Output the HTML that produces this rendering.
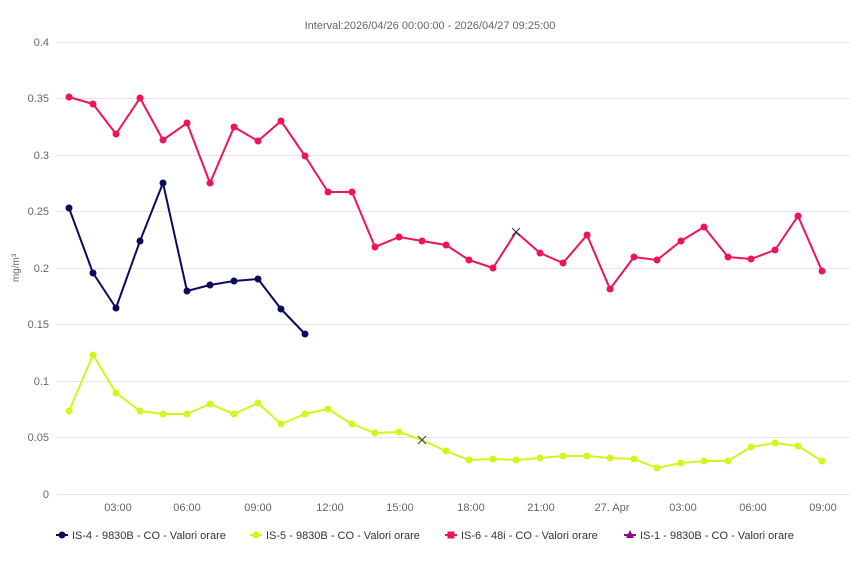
<!DOCTYPE html>
<html><head><style>
body{margin:0;background:#fff;}
svg{display:block;font-family:"Liberation Sans",sans-serif;}
</style></head><body>
<svg width="861" height="561" viewBox="0 0 861 561">
<text x="430" y="29" font-size="11" fill="#666" text-anchor="middle">Interval:2026/04/26 00:00:00 - 2026/04/27 09:25:00</text>
<g stroke="#e6e6e6" stroke-width="1">
<line x1="57" x2="850" y1="42.5" y2="42.5"/><line x1="57" x2="850" y1="98.5" y2="98.5"/>
<line x1="57" x2="850" y1="155.5" y2="155.5"/><line x1="57" x2="850" y1="211.5" y2="211.5"/>
<line x1="57" x2="850" y1="268.5" y2="268.5"/><line x1="57" x2="850" y1="324.5" y2="324.5"/>
<line x1="57" x2="850" y1="381.5" y2="381.5"/><line x1="57" x2="850" y1="437.5" y2="437.5"/>
<line x1="57" x2="850" y1="494.5" y2="494.5"/>
</g>
<g font-size="11" fill="#666" text-anchor="end">
<text x="49" y="46">0.4</text><text x="49" y="102">0.35</text><text x="49" y="159">0.3</text>
<text x="49" y="215">0.25</text><text x="49" y="272">0.2</text><text x="49" y="328">0.15</text>
<text x="49" y="385">0.1</text><text x="49" y="441">0.05</text><text x="49" y="498">0</text>
</g>
<text transform="translate(19,268) rotate(-90)" font-size="10" fill="#666" text-anchor="middle">mg/m³</text>
<g font-size="11" fill="#666" text-anchor="middle">
<text x="118" y="511">03:00</text><text x="187" y="511">06:00</text><text x="258" y="511">09:00</text>
<text x="330" y="511">12:00</text><text x="400" y="511">15:00</text><text x="471" y="511">18:00</text>
<text x="541" y="511">21:00</text><text x="612" y="511">27. Apr</text><text x="683" y="511">03:00</text>
<text x="753" y="511">06:00</text><text x="823" y="511">09:00</text>
</g>
<g fill="none" stroke-width="2" stroke-linejoin="round">
<polyline stroke="#f0135a" points="69,97 93,104 116,134 140,98 163,140 187,123 210,183 234,127 258,141 281,121 305,156 328,192 352,192 375,247 399,237 422,241 446,245 469,260 493,268 516,232 540,253 563,263 587,235 610,289 634,257 657,260 681,241 704,227 728,257 751,259 775,250 798,216 822,271"/>
<polyline stroke="#0b0b5e" points="69,208 93,273 116,308 140,241 163,183 187,291 210,285 234,281 258,279 281,309 305,334"/>
<polyline stroke="#d4f51a" points="69,411 93,355 116,393 140,411 163,414 187,414 210,404 234,414 258,403 281,424 305,414 328,409 352,424 375,433 399,432 422,440 446,451 469,460 493,459 516,460 540,458 563,456 587,456 610,458 634,459 657,468 681,463 704,461 728,461 751,447 775,443 798,446 822,461"/>
</g>
<g fill="#f0135a">
<circle cx="69" cy="97" r="3.5"/><circle cx="93" cy="104" r="3.5"/><circle cx="116" cy="134" r="3.5"/><circle cx="140" cy="98" r="3.5"/><circle cx="163" cy="140" r="3.5"/><circle cx="187" cy="123" r="3.5"/><circle cx="210" cy="183" r="3.5"/><circle cx="234" cy="127" r="3.5"/><circle cx="258" cy="141" r="3.5"/><circle cx="281" cy="121" r="3.5"/><circle cx="305" cy="156" r="3.5"/><circle cx="328" cy="192" r="3.5"/><circle cx="352" cy="192" r="3.5"/><circle cx="375" cy="247" r="3.5"/><circle cx="399" cy="237" r="3.5"/><circle cx="422" cy="241" r="3.5"/><circle cx="446" cy="245" r="3.5"/><circle cx="469" cy="260" r="3.5"/><circle cx="493" cy="268" r="3.5"/><circle cx="540" cy="253" r="3.5"/><circle cx="563" cy="263" r="3.5"/><circle cx="587" cy="235" r="3.5"/><circle cx="610" cy="289" r="3.5"/><circle cx="634" cy="257" r="3.5"/><circle cx="657" cy="260" r="3.5"/><circle cx="681" cy="241" r="3.5"/><circle cx="704" cy="227" r="3.5"/><circle cx="728" cy="257" r="3.5"/><circle cx="751" cy="259" r="3.5"/><circle cx="775" cy="250" r="3.5"/><circle cx="798" cy="216" r="3.5"/><circle cx="822" cy="271" r="3.5"/>
</g>
<g fill="#0b0b5e">
<circle cx="69" cy="208" r="3.5"/><circle cx="93" cy="273" r="3.5"/><circle cx="116" cy="308" r="3.5"/><circle cx="140" cy="241" r="3.5"/><circle cx="163" cy="183" r="3.5"/><circle cx="187" cy="291" r="3.5"/><circle cx="210" cy="285" r="3.5"/><circle cx="234" cy="281" r="3.5"/><circle cx="258" cy="279" r="3.5"/><circle cx="281" cy="309" r="3.5"/><circle cx="305" cy="334" r="3.5"/>
</g>
<g fill="#d4f51a">
<circle cx="69" cy="411" r="3.5"/><circle cx="93" cy="355" r="3.5"/><circle cx="116" cy="393" r="3.5"/><circle cx="140" cy="411" r="3.5"/><circle cx="163" cy="414" r="3.5"/><circle cx="187" cy="414" r="3.5"/><circle cx="210" cy="404" r="3.5"/><circle cx="234" cy="414" r="3.5"/><circle cx="258" cy="403" r="3.5"/><circle cx="281" cy="424" r="3.5"/><circle cx="305" cy="414" r="3.5"/><circle cx="328" cy="409" r="3.5"/><circle cx="352" cy="424" r="3.5"/><circle cx="375" cy="433" r="3.5"/><circle cx="399" cy="432" r="3.5"/><circle cx="446" cy="451" r="3.5"/><circle cx="469" cy="460" r="3.5"/><circle cx="493" cy="459" r="3.5"/><circle cx="516" cy="460" r="3.5"/><circle cx="540" cy="458" r="3.5"/><circle cx="563" cy="456" r="3.5"/><circle cx="587" cy="456" r="3.5"/><circle cx="610" cy="458" r="3.5"/><circle cx="634" cy="459" r="3.5"/><circle cx="657" cy="468" r="3.5"/><circle cx="681" cy="463" r="3.5"/><circle cx="704" cy="461" r="3.5"/><circle cx="728" cy="461" r="3.5"/><circle cx="751" cy="447" r="3.5"/><circle cx="775" cy="443" r="3.5"/><circle cx="798" cy="446" r="3.5"/><circle cx="822" cy="461" r="3.5"/>
</g>
<g stroke="#333" stroke-width="1">
<path d="M418,436 L426,444 M426,436 L418,444"/>
<path d="M512,228 L520,236 M520,228 L512,236"/>
</g>
<g font-size="11" fill="#333">
<line x1="56" x2="68" y1="535" y2="535" stroke="#0b0b5e" stroke-width="2"/><circle cx="62" cy="535" r="3.5" fill="#0b0b5e"/>
<text x="72" y="539">IS-4 - 9830B - CO - Valori orare</text>
<line x1="250" x2="262" y1="535" y2="535" stroke="#d4f51a" stroke-width="2"/><circle cx="256" cy="535" r="3.5" fill="#d4f51a"/>
<text x="266" y="539">IS-5 - 9830B - CO - Valori orare</text>
<line x1="445" x2="457" y1="535" y2="535" stroke="#f0135a" stroke-width="2"/><rect x="447.5" y="531.5" width="7" height="7" fill="#f0135a"/>
<text x="461" y="539">IS-6 - 48i - CO - Valori orare</text>
<line x1="624" x2="636" y1="535" y2="535" stroke="#8b0a8b" stroke-width="2"/><path d="M630,530 L634,538 L626,538Z" fill="#8b0a8b"/>
<text x="640" y="539">IS-1 - 9830B - CO - Valori orare</text>
</g>
</svg>
</body></html>
